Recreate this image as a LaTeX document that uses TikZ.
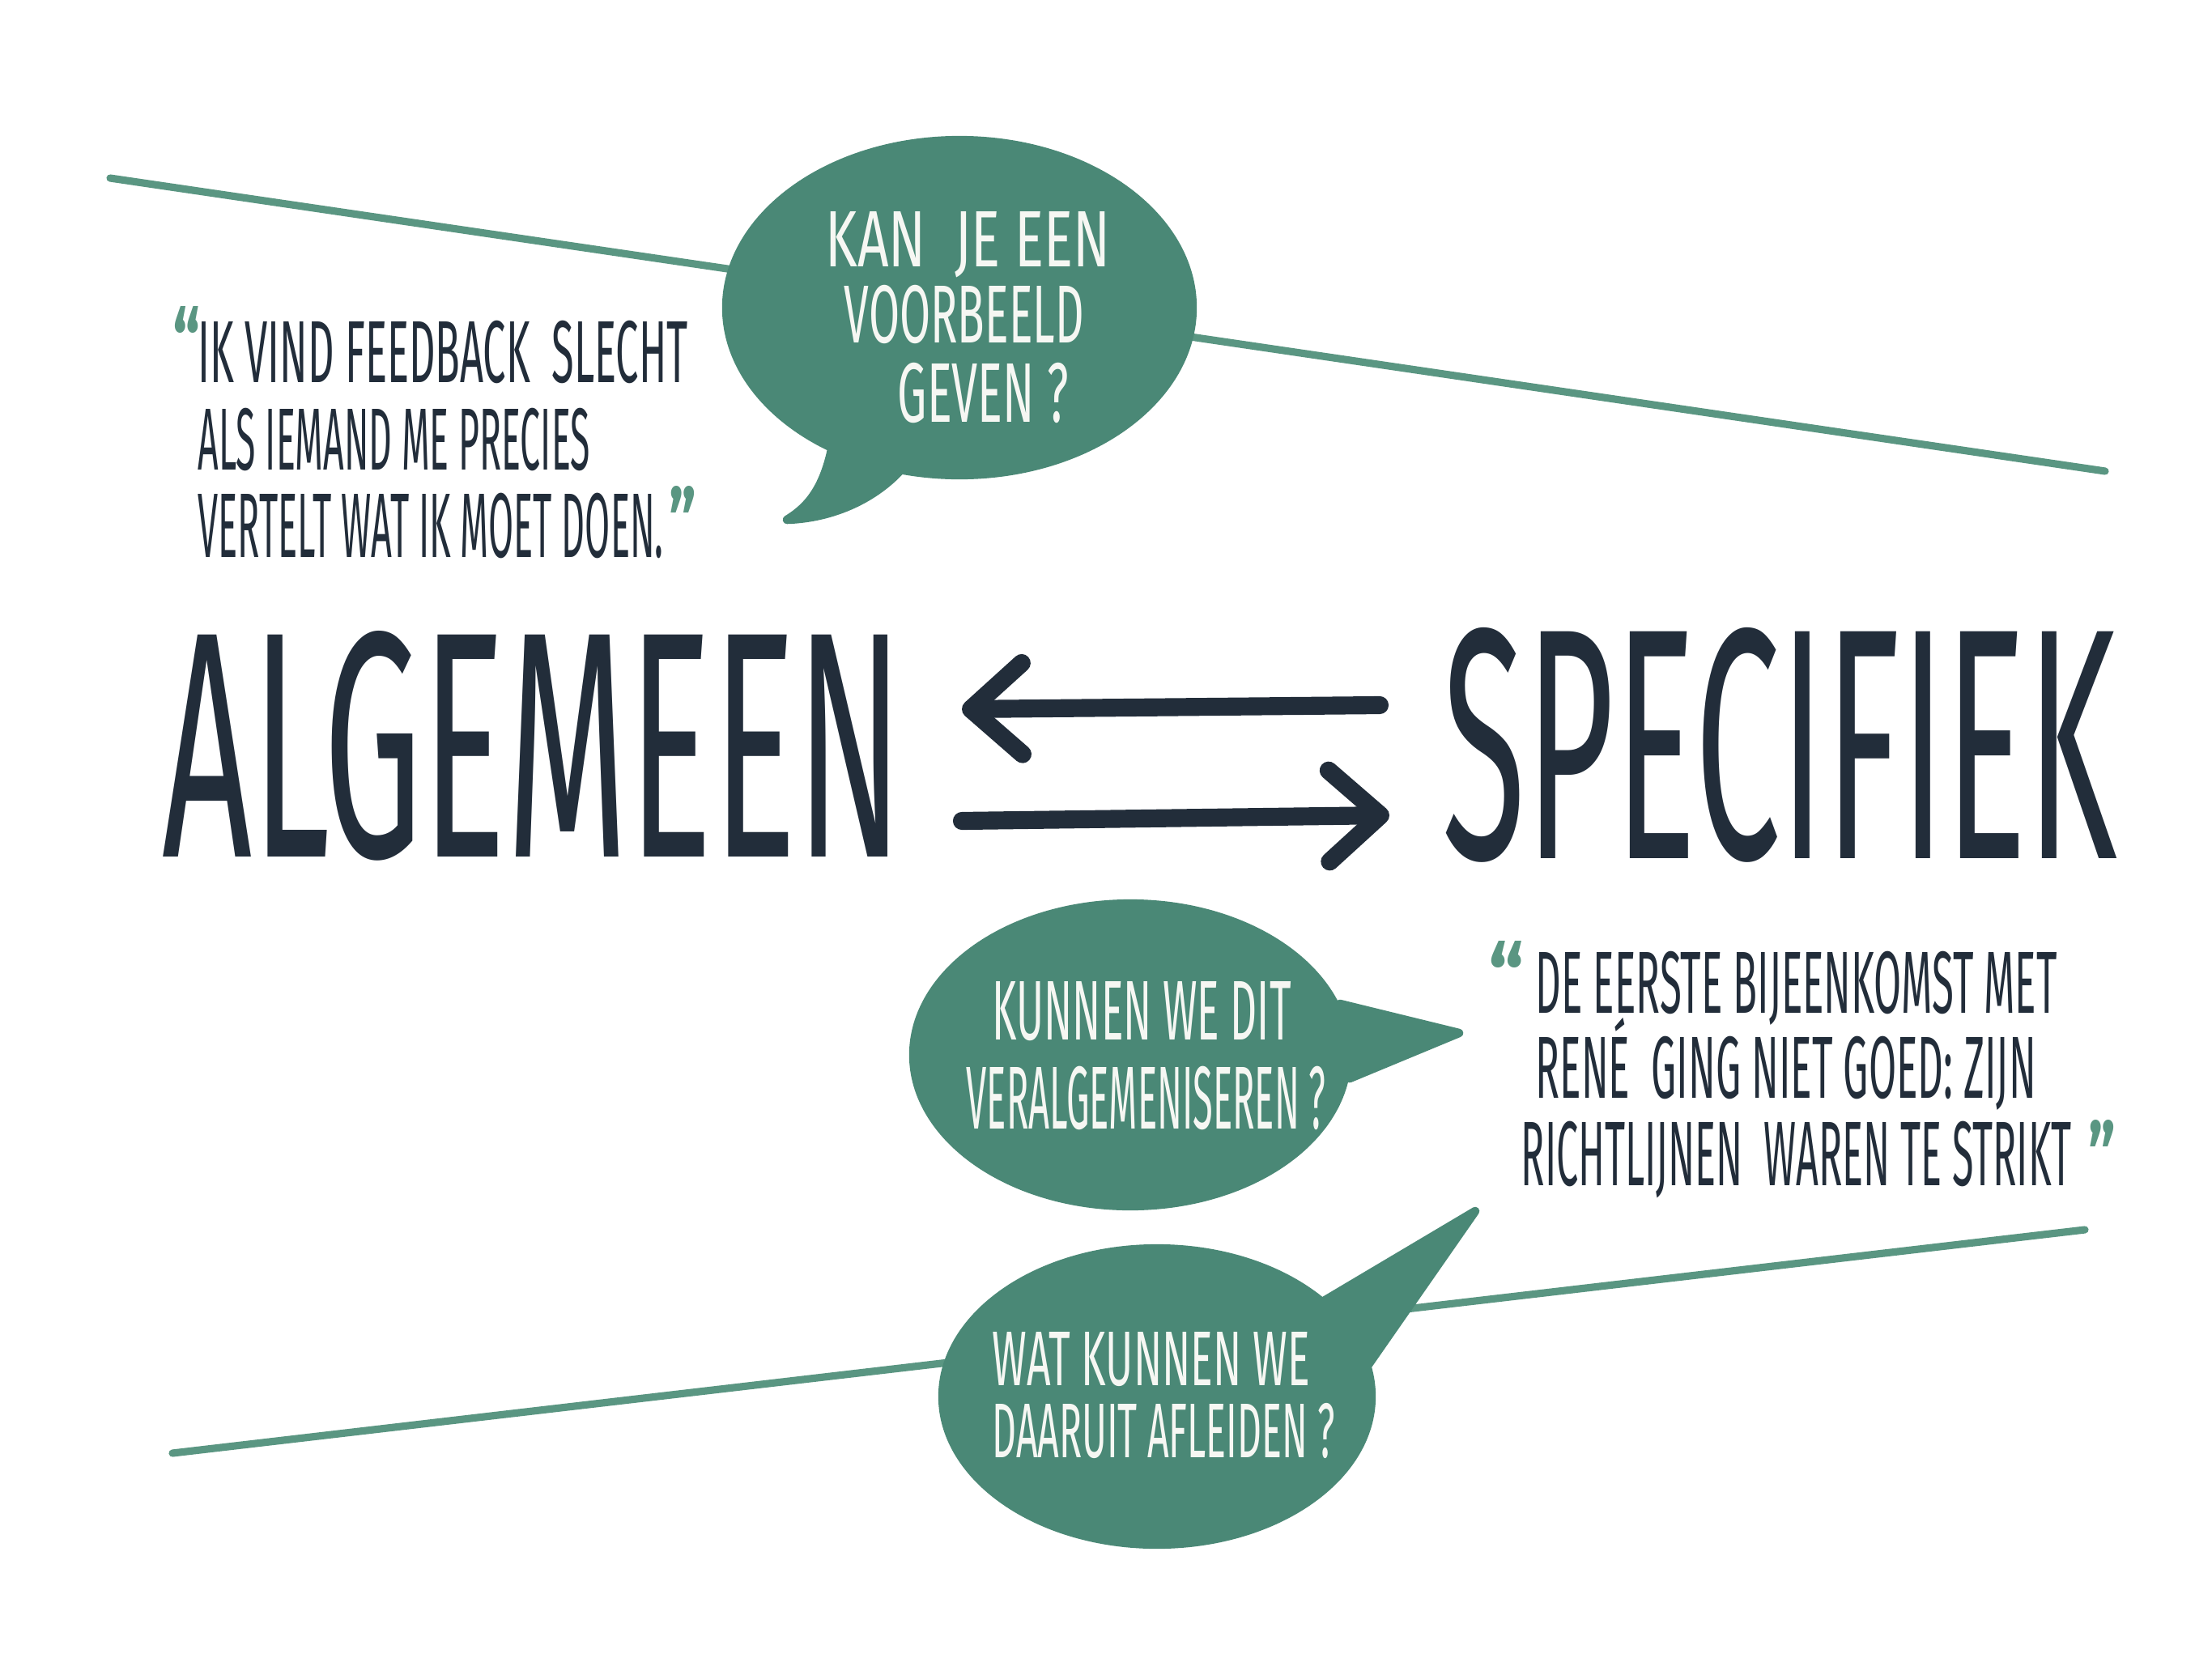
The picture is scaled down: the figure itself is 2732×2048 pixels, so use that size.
\documentclass[tikz,border=0pt]{standalone}
\usepackage{fontspec}
\setmainfont{Fira Sans}
\usetikzlibrary{shapes.geometric,arrows.meta}
\newlength\pxu
\setlength\pxu{0.01cm}
\newcommand\fitline[3]{\resizebox{#1\pxu}{#2\pxu}{\vphantom{E}\smash{#3}}}
\newcommand\qmark[3]{\resizebox{#1\pxu}{#2\pxu}{\bfseries #3}}
\definecolor{bubblegreen}{RGB}{74,136,118}
\definecolor{linegreen}{RGB}{90,150,130}
\definecolor{inkdark}{RGB}{34,45,58}
\definecolor{chalk}{RGB}{246,247,243}
\tikzset{
  rule/.style={draw=linegreen, line width=2.6pt, line cap=round},
  bubble/.style={ellipse, fill=bubblegreen, inner sep=0pt, outer sep=0pt},
  tail/.style={fill=bubblegreen, draw=bubblegreen, line width=3pt, line join=round},
  darktext/.style={inner sep=0pt, anchor=base west, text=inkdark},
  lighttext/.style={inner sep=0pt, anchor=base west, text=chalk},
  quotemark/.style={inner sep=0pt, anchor=north west, text=linegreen},
  bigarrow/.style={draw=inkdark, line width=6.3pt, line cap=round, line join=round,
    -{Straight Barb[length=18pt, width=32pt, line cap=round, line join=round]}},
}
\begin{document}
\begin{tikzpicture}[x=0.01cm, y=-0.01cm]
\fill[white] (0,0) rectangle (2732,2048);
\path[use as bounding box] (0,0) rectangle (2732,2048);

% background diagonal rules
\coordinate (topL) at (136,220);
\coordinate (topR) at (2600,582);
\coordinate (botL) at (213,1795);
\coordinate (botR) at (2575,1519);
\draw[rule] (topL) -- (topR);
\draw[rule] (botL) -- (botR);

% bubble 1
\fill[tail] (1030,540) .. controls (1020,600) and (1000,625) .. (972,642)
  .. controls (1030,640) and (1085,615) .. (1120,572) -- cycle;
\node[bubble, minimum width=5.86cm, minimum height=4.24cm] (b1) at (1185,380) {};

% bubble 2
\fill[tail] (1655,1240) -- (1802,1276) -- (1667,1332) -- cycle;
\node[bubble, minimum width=5.46cm, minimum height=3.84cm] (b2) at (1396,1303) {};

% bubble 3
\fill[tail] (1630,1610) -- (1822,1496) -- (1680,1700) -- cycle;
\node[bubble, minimum width=5.40cm, minimum height=3.76cm] (b3) at (1429,1725) {};

% bubble texts
\node[lighttext] (b1a) at (1019,329) {\fitline{352}{68}{KAN\ \ JE EEN}};
\node[lighttext] (b1b) at (1042,423) {\fitline{296}{70}{VOORBEELD}};
\node[lighttext] (b1c) at (1108,521) {\fitline{211}{72}{GEVEN ?}};

\node[lighttext] (b2a) at (1225,1284) {\fitline{369}{72}{KUNNEN WE DIT}};
\node[lighttext] (b2b) at (1193,1394) {\fitline{444}{76}{VERALGEMENISEREN ?}};

\node[lighttext] (b3a) at (1225,1711) {\fitline{392}{66}{WAT KUNNEN WE}};
\node[lighttext] (b3b) at (1225,1800) {\fitline{423}{66}{DAARUIT AFLEIDEN ?}};

% quote 1
\node[quotemark] (q1open) at (213,378) {\qmark{34}{83}{“}};
\node[darktext] (q1a) at (244,472) {\fitline{605}{75}{IK VIND FEEDBACK\ \ SLECHT}};
\node[darktext] (q1b) at (244,580) {\fitline{484}{75}{ALS IEMAND ME PRECIES}};
\node[darktext] (q1c) at (244,688) {\fitline{575}{78}{VERTELT WAT IK MOET DOEN.}};
\node[quotemark] (q1close) at (826,600) {\qmark{34}{83}{”}};

% quote 2
\node[quotemark] (q2open) at (1838,1162) {\qmark{44}{83}{“}};
\node[darktext] (q2a) at (1896,1251) {\fitline{644}{75}{DE EERSTE BIJEENKOMST MET}};
\node[darktext] (q2b) at (1896,1356) {\fitline{618}{75}{RENÉ\ \ GING NIET GOED: ZIJN}};
\node[darktext] (q2c) at (1878,1464) {\fitline{680}{78}{RICHTLIJNEN\ \ WAREN TE STRIKT}};
\node[quotemark] (q2close) at (2579,1383) {\qmark{34}{83}{”}};

% big words
\node[darktext] (alg) at (200,1058) {\fitline{915}{274}{ALGEMEEN}};
\node[darktext] (spec) at (1781,1060) {\fitline{833}{280}{SPECIFIEK}};

% arrows between the words
\coordinate (upStart) at (1704,871);
\coordinate (upTip) at (1188,876);
\coordinate (lowStart) at (1188,1014);
\coordinate (lowTip) at (1716,1007);
\draw[bigarrow] (upStart) -- (upTip);
\draw[bigarrow] (lowStart) -- (lowTip);
\end{tikzpicture}
\end{document}
